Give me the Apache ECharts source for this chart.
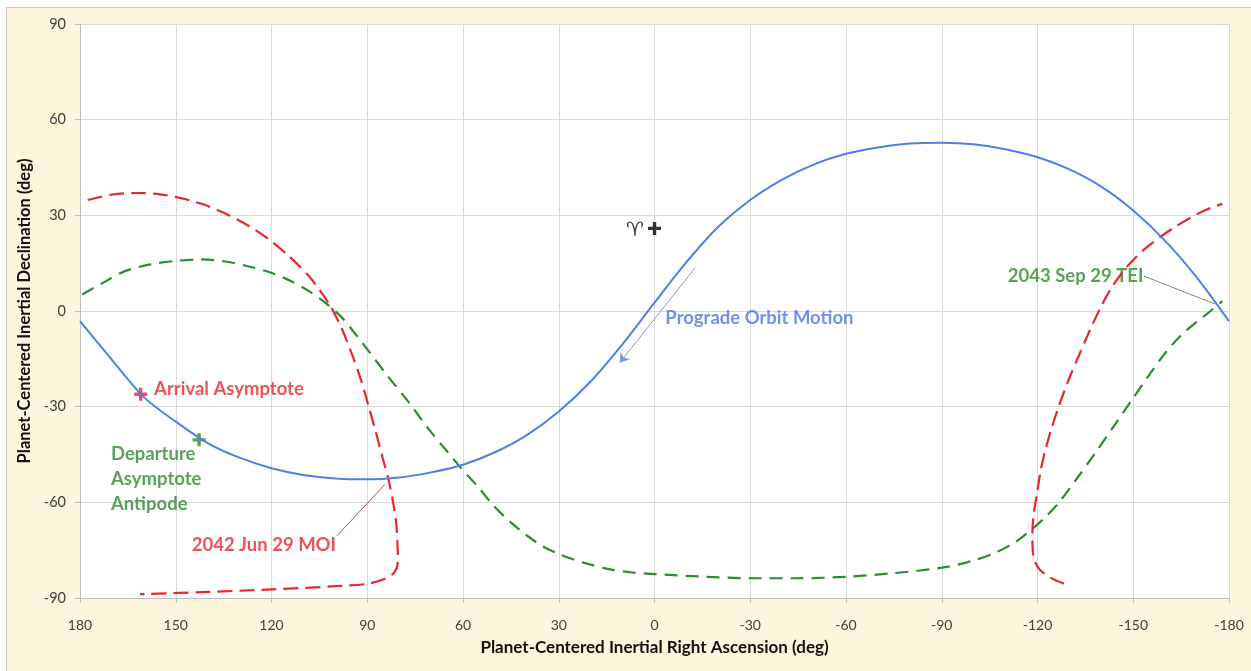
<!DOCTYPE html>
<html><head><meta charset="utf-8">
<script src="https://cdn.jsdelivr.net/npm/echarts@6/dist/echarts.min.js"></script>
<style>
html,body{margin:0;padding:0;background:#fff;overflow:hidden;width:1251px;height:671px;}
#c{position:absolute;left:6px;top:7px;width:1250px;height:670px;border:1px solid #c8c8c8;background:#fdf5dc;}
</style></head><body><div id="c"></div>
<script>
// Planet-centered inertial right ascension / declination (deg)
const orbitPath = [[180,-3.2],[170,-15.3],[160,-27],[150,-34.7],[140,-41.4],[130,-46],[120,-49.3],[110,-51.4],[100,-52.5],[90,-52.8],[80,-52.2],[70,-50.6],[60,-48.2],[50,-44.3],[40,-38.9],[30,-31.5],[20,-22.1],[10,-10.4],[0,2.6],[-10,15.3],[-20,26.4],[-30,34.8],[-40,41.2],[-50,46],[-60,49.3],[-70,51.3],[-80,52.5],[-90,52.8],[-100,52.3],[-110,50.7],[-120,48.2],[-130,44.4],[-140,39],[-150,31.5],[-160,22],[-170,10.4],[-180,-3.2]];
const arrivalLocusWest = [[177.6,34.8],[170,36.5],[162,37],[155,36.6],[148,35.3],[141,33.3],[135,30.8],[128,27.2],[121,22.6],[114.5,17.2],[108.5,11.2],[104.5,6],[101.5,1.5],[98,-5.5],[94.8,-13.5],[92,-21.5],[89.6,-29.8],[87.3,-38],[85.2,-46],[83.4,-52.6],[81.9,-60],[80.9,-67],[80.5,-74],[80.4,-78.6],[81.4,-81.8],[83.9,-83.7],[89.6,-85.5],[100,-86.3],[120,-87.3],[140,-88.1],[161.2,-88.8]];
const arrivalLocusEast = [[-128.3,-85.5],[-124,-83.6],[-120.6,-81],[-119,-78],[-118.5,-75],[-118.4,-69.5],[-118.9,-63],[-119.9,-57],[-121,-50],[-122.5,-43.4],[-124.5,-36.5],[-126.7,-29.8],[-129.6,-22],[-132.9,-14.1],[-136.2,-6.5],[-139.7,1],[-143,7],[-146.5,12],[-150,16],[-154,19.8],[-158.6,23.3],[-163,26.3],[-167.5,29],[-172.5,31.6],[-177.9,33.6]];
const departureLocus = [[179.3,5.2],[172,9.3],[165.9,12.5],[158,14.6],[150.2,15.7],[142,16.2],[135,15.6],[128,14.2],[120.1,12],[114,9.4],[108.4,6.3],[103,2.5],[98,-2],[93.5,-7.5],[89.6,-12.5],[83.5,-20.5],[77.1,-28.5],[70,-38],[65,-44],[61,-48.8],[55,-55.5],[50.4,-61.1],[45,-66.3],[40,-70.4],[35,-73.8],[29.8,-76.3],[22,-79],[13.9,-81],[7,-82],[0,-82.5],[-15,-83.3],[-30,-83.8],[-45,-83.8],[-60.8,-83.3],[-75,-82.2],[-90.1,-80.5],[-99,-78.5],[-106.8,-75.8],[-113,-72.5],[-118.3,-68.4],[-122.6,-64.5],[-126.7,-60.1],[-132,-53],[-138.2,-44.4],[-144,-36],[-149.7,-27.7],[-155,-20],[-160.1,-13.1],[-165,-7.6],[-170,-3.3],[-174.2,0],[-177.9,3.1]];
const arrivalPoint = [161,-26.1];
const departurePoint = [142.7,-40.4];
const ariesPoint = [0,25.9];
const notes = [
  {text:'Arrival Asymptote', at:[156.8,-24.4], role:'arrival'},
  {text:'Departure\nAsymptote\nAntipode', at:[170.3,-52.8], role:'departure'},
  {text:'2042 Jun 29 MOI', at:[145,-73.4], role:'arrival'},
  {text:'Prograde Orbit Motion', at:[-3.4,-2.1], role:'orbit'},
  {text:'2043 Sep 29 TEI', at:[-110.7,11], role:'departure'},
  {text:'\u2648\uFE0E', at:[8.8,25.1], role:'aries'}
];
const moiLeader = [[99.5,-70.5],[84.4,-54.3]];
const teiLeader = [[-153.2,11],[-175.6,2.2]];
const motionArrow = [[-12.8,13.6],[10.9,-16.2]];

const C = {orbit:'#4f7fe6', orbitText:'#4a78dc', arrival:'#e8282c', departure:'#2e8b2e', aries:'#000'};
const plus = 'path://M3.7,0H6.3V3.7H10V6.3H6.3V10H3.7V6.3H0V3.7H3.7Z';
const font = 'Lato, "Open Sans", sans-serif';

const chart = echarts.init(document.getElementById('c'));
chart.setOption({
  animation:false,
  backgroundColor:'transparent',
  grid:{left:73,top:16,width:1149,height:574,show:true,backgroundColor:'#fff',borderWidth:0},
  xAxis:{type:'value',min:-180,max:180,interval:30,inverse:true,
    name:'Planet-Centered Inertial Right Ascension (deg)',nameLocation:'middle',nameGap:41,
    nameTextStyle:{fontFamily:font,fontWeight:'bold',fontSize:17,color:'#111'},
    axisLine:{show:true,onZero:false,lineStyle:{color:'#bdbdbd',width:1}},
    axisTick:{show:true,length:5,lineStyle:{color:'#bdbdbd'}},
    axisLabel:{margin:20,fontFamily:font,fontSize:14,color:'#404040'},
    splitLine:{show:true,lineStyle:{color:'#d9d9d9',width:1}}},
  yAxis:{type:'value',min:-90,max:90,interval:30,
    name:'Planet-Centered Inertial Declination (deg)',nameLocation:'middle',nameGap:43,
    nameTextStyle:{fontFamily:font,fontWeight:'bold',fontSize:16.5,color:'#111'},
    axisLine:{show:true,onZero:false,lineStyle:{color:'#bdbdbd',width:1}},
    axisTick:{show:true,length:5,lineStyle:{color:'#bdbdbd'}},
    axisLabel:{margin:14,fontFamily:font,fontSize:14.5,color:'#404040'},
    splitLine:{show:true,lineStyle:{color:'#d9d9d9',width:1}}},
  series:[
    {type:'line',data:departureLocus,showSymbol:false,smooth:0.3,lineStyle:{color:C.departure,width:2.2,type:[13,8]}},
    {type:'line',data:arrivalLocusWest,showSymbol:false,smooth:0.3,lineStyle:{color:C.arrival,width:2.2,type:[15,7]}},
    {type:'line',data:arrivalLocusEast,showSymbol:false,smooth:0.3,lineStyle:{color:C.arrival,width:2.2,type:[15,7]}},
    {type:'line',data:orbitPath,showSymbol:false,smooth:0.3,lineStyle:{color:C.orbit,width:2},
      markLine:{silent:true,symbol:['none','none'],label:{show:false},
        data:[
          [{coord:moiLeader[0],lineStyle:{color:'#d0454a',width:1,type:'solid'}},{coord:moiLeader[1]}],
          [{coord:teiLeader[0],lineStyle:{color:'#5f9f5f',width:1,type:'solid'}},{coord:teiLeader[1]}]
        ]}},
    {type:'line',data:[],markLine:{silent:true,symbol:['none','arrow'],symbolSize:9,label:{show:false},
        data:[[{coord:motionArrow[0],lineStyle:{color:'#7d97e3',width:1,type:'solid'}},{coord:motionArrow[1]}]]}},
    {type:'scatter',symbol:plus,symbolSize:13,data:[
      {value:arrivalPoint,itemStyle:{color:C.arrival}},
      {value:departurePoint,itemStyle:{color:C.departure}},
      {value:ariesPoint,itemStyle:{color:C.aries}}]},
    {type:'scatter',symbolSize:0,data:notes.map(n=>({value:n.at,name:n.text,
      label:{show:true,position:'right',distance:0,align:'left',formatter:n.text,
        fontFamily:n.role==='aries'?'"DejaVu Serif", serif':font,
        fontWeight:n.role==='aries'?'normal':'bold',
        fontSize:n.role==='aries'?20:18.5,lineHeight:25,
        color:n.role==='orbit'?C.orbitText:C[n.role]}}))}
  ]
});
</script></body></html>
